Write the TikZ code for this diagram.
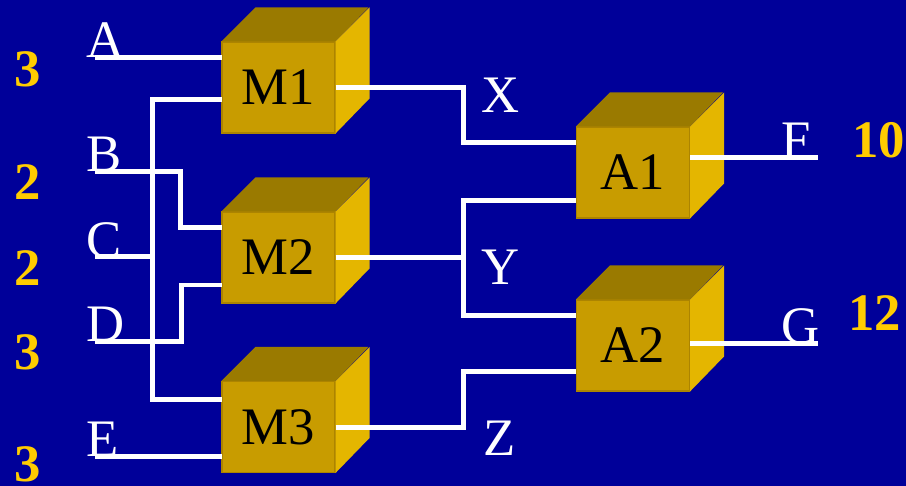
\documentclass[tikz,border=0pt]{standalone}
\usepackage{fontspec}
\setmainfont{Liberation Serif}
\definecolor{bgblue}{RGB}{0,0,153}
\definecolor{gold}{RGB}{255,204,0}
\definecolor{cubefront}{RGB}{200,156,0}
\definecolor{cubetop}{RGB}{154,122,0}
\definecolor{cubeside}{RGB}{228,182,0}
\definecolor{cubeedge}{RGB}{172,132,0}

\begin{document}
\begin{tikzpicture}[x=0.02cm, y=-0.02cm, font=\fontsize{30}{36}\selectfont,
  unit/.style={fill=cubefront, draw=cubeedge, line width=0.6pt, minimum width=2.26cm, minimum height=1.82cm, inner sep=0pt},
  wire/.style={draw=white, line width=0.1cm},
  sig/.style={white, anchor=base west, inner sep=0pt},
  cost/.style={gold, anchor=base west, inner sep=0pt, font=\fontsize{30}{36}\selectfont\bfseries}]
  \useasboundingbox[fill=bgblue] (0,0) rectangle (906,486);

  % multipliers and adders as cubes
  \foreach \n/\x/\y in {M1/278.5/87.5, M2/278.5/257.5, M3/278.5/427, A1/633/172.5, A2/633/345.5} {
    \node[unit] (\n) at (\x,\y) {\n};
    \fill[cubetop] (\n.north west) -- ++(34,-34) -- ++(113,0) -- (\n.north east) -- cycle;
    \fill[cubeside] (\n.north east) -- ++(34,-34) -- ++(0,91) -- (\n.south east) -- cycle;
  }

  % signal names and delays
  \foreach \n/\x/\y in {A/86/58, B/86/172, C/86/257, D/86/341, E/86/456, X/481/113, Y/481/284, Z/483/455, F/781/158, G/781/343}
    \node[sig] (l\n) at (\x,\y) {\n};
  \foreach \v/\x/\y [count=\i] in {3/14/87, 2/14/200, 2/14/285, 3/14/369, 3/14/481, 10/852/158, 12/848/330}
    \node[cost] (d\i) at (\x,\y) {\v};

  % wire ends and pins
  \foreach \p/\x/\y in {a/95/58, b/95/172, c/95/257, d/95/341, e/95/456, f/818/158, g/818/343,
      M1a/222/58, M1b/222/100, M2a/222/228, M2b/222/285, M3a/222/399, M3b/222/456,
      A1a/576/143, A1b/576/201, A2a/576/315, A2b/576/371, A1o/690/158, A2o/690/343,
      cbus/152/257, ybus/463/257.5}
    \coordinate (\p) at (\x,\y);

  \draw[wire] (a) -- (M1a);
  \draw[wire] (b) -- ++(85,0) |- (M2a);
  \draw[wire] (c) -- (cbus);
  \draw[wire] (M1b) -| (cbus) |- (M3a);
  \draw[wire] (d) -- ++(86,0) |- (M2b);
  \draw[wire] (e) -- (M3b);
  \draw[wire] (M1.east) -- ++(128,0) |- (A1a);
  \draw[wire] (M2.east) -- (ybus);
  \draw[wire] (A1b) -| (ybus) |- (A2a);
  \draw[wire] (M3.east) -- ++(128,0) |- (A2b);
  \draw[wire] (A1o) -- (f);
  \draw[wire] (A2o) -- (g);
\end{tikzpicture}
\end{document}
